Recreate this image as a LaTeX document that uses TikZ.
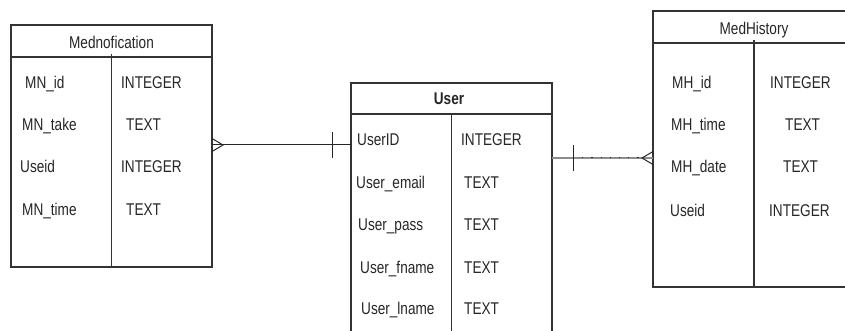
\documentclass[tikz,border=0pt]{standalone}
\usepackage{fontspec}
\setmainfont[FakeStretch=0.8]{Liberation Sans}
\usetikzlibrary{calc}

\tikzset{
    table/.style={draw=black!80, line width=1.1pt, rectangle, inner sep=0pt, outer sep=0pt},
    field/.style={anchor=west, inner sep=0pt, text height=12pt, text depth=0pt,
        font=\fontsize{17}{20}\selectfont, text=black!85},
    title/.style={field, anchor=center},
    link/.style={draw=black!85, line width=1pt},
    hlink/.style={draw=black!45, line width=1.8pt}
}

\begin{document}
\begin{tikzpicture}[x=1pt, y=-1pt]

            \useasboundingbox (0,0) rectangle (845,331);
            \clip (0,0) rectangle (845,331);

            % Mednofication
            \node[table, minimum width=201pt, minimum height=242pt] (mednotif) at (111.5,146) {};
            \draw[table] ([yshift=-32pt]mednotif.north west) -- ([yshift=-32pt]mednotif.north east);
            \draw[table] ([yshift=-29pt]mednotif.north) -- (mednotif.south);
            \node[title] (mednotiftitle) at (111.5,43) {Mednofication};

            \node[field] (mnid) at (25,83) {MN\_id};
            \node[field] (mntake) at (22,125) {MN\_take};
            \node[field] (mnuseid) at (20,167) {Useid};
            \node[field] (mntime) at (22,209) {MN\_time};

            \node[field] (mnidtype) at (121,83) {INTEGER};
            \node[field] (mntaketype) at (126,125) {TEXT};
            \node[field] (mnuseidtype) at (121,167) {INTEGER};
            \node[field] (mntimetype) at (126,209) {TEXT};

            % User
            \node[table, minimum width=201pt, minimum height=262pt] (user) at (451.5,214) {};
            \draw[table] ([yshift=-31pt]user.north west) -- ([yshift=-31pt]user.north east);
            \draw[table] ([yshift=-31pt]user.north) -- (user.south);
            \node[title, font=\fontsize{17}{20}\bfseries] (usertitle) at (449,99) {User};

            \node[field] (uid) at (357,140) {UserID};
            \node[field] (uemail) at (356,182) {User\_email};
            \node[field] (upass) at (358,224) {User\_pass};
            \node[field] (ufname) at (360,267) {User\_fname};
            \node[field] (ulname) at (361,308) {User\_lname};

            \node[field] (uidtype) at (461,140) {INTEGER};
            \node[field] (uemailtype) at (464,182) {TEXT};
            \node[field] (upasstype) at (464,224) {TEXT};
            \node[field] (ufnametype) at (464,267) {TEXT};
            \node[field] (ulnametype) at (464,308) {TEXT};

            % MedHistory
            \node[table, minimum width=202pt, minimum height=276pt] (medhist) at (754,149) {};
            \draw[table] ([yshift=-32pt]medhist.north west) -- ([yshift=-32pt]medhist.north east);
            \draw[table] ([yshift=-29pt]medhist.north) -- (medhist.south);
            \node[title] (medhisttitle) at (754,29) {MedHistory};

            \node[field] (mhid) at (672,83) {MH\_id};
            \node[field] (mhtime) at (671,125) {MH\_time};
            \node[field] (mhdate) at (671,167) {MH\_date};
            \node[field] (mhuseid) at (670,210) {Useid};

            \node[field] (mhidtype) at (770,83) {INTEGER};
            \node[field] (mhtimetype) at (785,125) {TEXT};
            \node[field] (mhdatetype) at (783,167) {TEXT};
            \node[field] (mhuseidtype) at (769,210) {INTEGER};

            % Mednofication >---| User
            \coordinate (mnend) at ($(mednotif.east)+(0,-1)$);
            \coordinate (mncrow) at ($(mnend)+(11,0)$);
            \coordinate (ubar) at ($(mnend -| user.west)+(-19,0)$);
            \draw[link] (mnend) -- (mnend -| user.west);
            \draw[link] ($(mnend)+(0,-6.5)$) -- (mncrow) -- ($(mnend)+(0,6.5)$);
            \draw[link] ($(ubar)+(0,-13)$) -- ($(ubar)+(0,13)$);

            % User |---< MedHistory
            \coordinate (uend) at ($(user.north east)+(0,75)$);
            \coordinate (mhcrow) at ($(uend -| medhist.west)+(-11,0)$);
            \coordinate (mhbar) at ($(uend)+(21,0)$);
            \draw[hlink] (uend) -- (uend -| medhist.west);
            \draw[link, dash pattern=on 1.2pt off 8pt] (mhbar) -- (mhcrow);
            \draw[link] ($(uend -| medhist.west)+(0,-6.5)$) -- (mhcrow) -- ($(uend -| medhist.west)+(0,6.5)$);
            \draw[link] ($(mhbar)+(0,-13)$) -- ($(mhbar)+(0,13)$);

        \end{tikzpicture}
\end{document}
